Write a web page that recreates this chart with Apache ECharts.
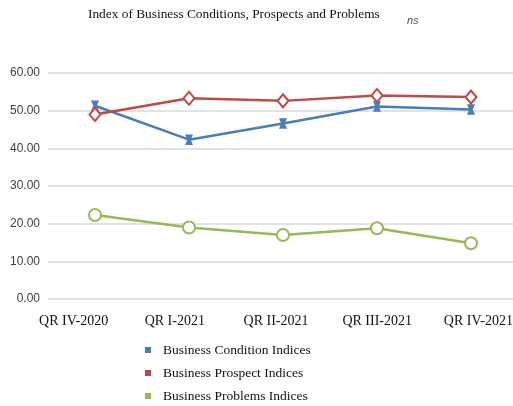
<!DOCTYPE html>
<html>
<head>
<meta charset="utf-8">
<script src="https://cdn.jsdelivr.net/npm/echarts@6/dist/echarts.min.js"></script>
<style>
  html, body { margin: 0; padding: 0; background: #fff; }
  #chart { width: 513px; height: 406px; }
</style>
</head>
<body>
<div id="chart"></div>
<script>
const categories = ["QR IV-2020", "QR I-2021", "QR II-2021", "QR III-2021", "QR IV-2021"];
const conditionIdx = [51.3, 42.3, 46.6, 51.1, 50.3];
const prospectIdx = [49.0, 53.3, 52.6, 54.0, 53.6];
const problemsIdx = [22.3, 19.0, 17.0, 18.8, 14.8];
const yTicks = [0, 10, 20, 30, 40, 50, 60];
const seriesNames = ["Business Condition Indices", "Business Prospect Indices", "Business Problems Indices"];

const serif = "'Liberation Serif', 'DejaVu Serif', serif";
const sans = "'Liberation Sans', Arial, sans-serif";

const chart = echarts.init(document.getElementById("chart"));

function lineSeries(name, data, color, symbol, size) {
  return {
    name: name,
    type: "line",
    data: data,
    symbol: symbol,
    symbolSize: size,
    showAllSymbol: true,
    lineStyle: { color: color, width: 2.5 },
    itemStyle: { color: color, borderColor: color, borderWidth: 2 },
    emphasis: { disabled: true }
  };
}

// one legend per row, stacked under the plot
const legends = seriesNames.map((name, i) => ({
  left: 140,
  top: 338 + i * 23,
  itemWidth: 4,
  itemHeight: 4,
  icon: "rect",
  textStyle: { fontFamily: serif, fontSize: 13.5, color: "#111", padding: [0, 0, 0, 8] },
  data: [name]
}));

chart.setOption({
  animation: false,
  title: [
    {
      text: "Index of Business Conditions, Prospects and Problems",
      left: 88,
      top: 8,
      padding: 0,
      textStyle: { fontFamily: serif, fontSize: 13.35, fontWeight: "normal", color: "#111" }
    },
    {
      text: "ns",
      left: 407,
      top: 15,
      padding: 0,
      textStyle: { fontFamily: sans, fontSize: 11, fontStyle: "italic", fontWeight: "normal", color: "#555" }
    }
  ],
  legend: legends,
  grid: [
    { left: 48, top: 73, width: 470, height: 226, containLabel: false, outerBoundsMode: "none" },
    // labels in the source sit on a slightly wider spacing than the points
    { left: 23, top: 73, width: 506, height: 226, containLabel: false, outerBoundsMode: "none" }
  ],
  xAxis: [
    {
      type: "category",
      gridIndex: 0,
      data: categories,
      boundaryGap: true,
      axisLine: { show: false },
      axisTick: { show: false },
      axisLabel: { show: false }
    },
    {
      type: "category",
      gridIndex: 1,
      data: categories,
      boundaryGap: true,
      axisLine: { show: false },
      axisTick: { show: false },
      axisLabel: { fontFamily: serif, fontSize: 14, color: "#111", margin: 15 }
    }
  ],
  yAxis: [
    {
      type: "value",
      gridIndex: 0,
      min: yTicks[0],
      max: yTicks[yTicks.length - 1],
      interval: 10,
      axisLine: { show: false },
      axisTick: { show: false },
      splitLine: { lineStyle: { color: "#d9d9d9", width: 1.5 } },
      axisLabel: {
        fontFamily: sans,
        fontSize: 12,
        color: "#404040",
        margin: 8,
        formatter: v => v.toFixed(2)
      }
    },
    {
      type: "value",
      gridIndex: 1,
      min: 0,
      max: 60,
      show: false
    }
  ],
  series: [
    lineSeries(seriesNames[0], conditionIdx, "#4a7ebb",
      "path://M0,0L10,0L6.5,5L10,10L0,10L3.5,5Z", [5, 8]),
    lineSeries(seriesNames[1], prospectIdx, "#be4b48", "emptyDiamond", [11, 13]),
    lineSeries(seriesNames[2], problemsIdx, "#98b954", "emptyCircle", 12)
  ]
});
</script>
</body>
</html>
